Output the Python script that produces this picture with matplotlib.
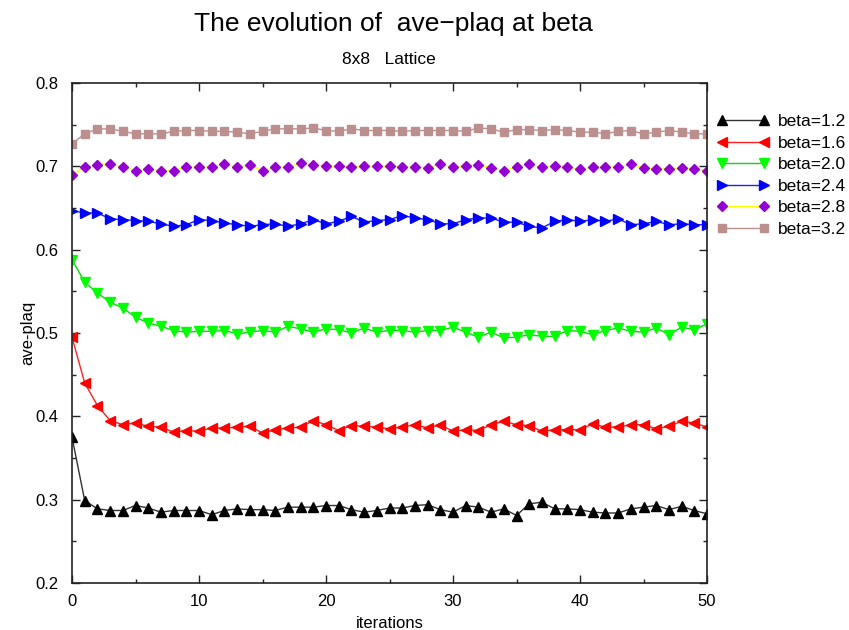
#!/usr/bin/env python3

import matplotlib
matplotlib.use("Agg")
import matplotlib.pyplot as plt
from matplotlib.ticker import MultipleLocator

iterations = list(range(51))

beta_1_2 = [0.375, 0.299, 0.289, 0.287, 0.287, 0.293, 0.290, 0.285, 0.287, 0.287,
            0.287, 0.282, 0.287, 0.289, 0.288, 0.288, 0.287, 0.291, 0.291, 0.291,
            0.293, 0.293, 0.288, 0.285, 0.287, 0.290, 0.290, 0.293, 0.294, 0.288,
            0.285, 0.293, 0.291, 0.285, 0.289, 0.281, 0.295, 0.297, 0.289, 0.289,
            0.288, 0.285, 0.284, 0.284, 0.289, 0.291, 0.293, 0.288, 0.292, 0.287,
            0.283]
beta_1_6 = [0.495, 0.440, 0.413, 0.395, 0.390, 0.392, 0.388, 0.387, 0.381, 0.383,
            0.382, 0.386, 0.386, 0.387, 0.388, 0.380, 0.384, 0.386, 0.387, 0.395,
            0.390, 0.383, 0.389, 0.388, 0.387, 0.385, 0.387, 0.390, 0.386, 0.390,
            0.382, 0.384, 0.383, 0.390, 0.394, 0.390, 0.389, 0.382, 0.384, 0.384,
            0.384, 0.391, 0.387, 0.387, 0.390, 0.390, 0.385, 0.388, 0.394, 0.392,
            0.387]
beta_2_0 = [0.588, 0.561, 0.548, 0.537, 0.530, 0.519, 0.512, 0.508, 0.503, 0.501,
            0.502, 0.502, 0.503, 0.499, 0.501, 0.503, 0.501, 0.508, 0.505, 0.501,
            0.505, 0.504, 0.500, 0.506, 0.501, 0.503, 0.503, 0.501, 0.503, 0.503,
            0.507, 0.501, 0.495, 0.501, 0.494, 0.495, 0.498, 0.496, 0.496, 0.503,
            0.502, 0.498, 0.503, 0.506, 0.502, 0.501, 0.506, 0.498, 0.507, 0.504,
            0.511]
beta_2_4 = [0.647, 0.644, 0.644, 0.637, 0.636, 0.635, 0.634, 0.631, 0.628, 0.630,
            0.636, 0.635, 0.632, 0.630, 0.628, 0.630, 0.631, 0.628, 0.631, 0.636,
            0.631, 0.634, 0.640, 0.633, 0.635, 0.636, 0.641, 0.638, 0.636, 0.631,
            0.631, 0.636, 0.638, 0.638, 0.633, 0.633, 0.628, 0.626, 0.634, 0.636,
            0.634, 0.636, 0.634, 0.637, 0.630, 0.631, 0.634, 0.630, 0.631, 0.630,
            0.630]
beta_2_8 = [0.690, 0.699, 0.702, 0.703, 0.699, 0.695, 0.697, 0.695, 0.695, 0.699,
            0.699, 0.699, 0.703, 0.699, 0.702, 0.694, 0.699, 0.699, 0.704, 0.702,
            0.700, 0.700, 0.699, 0.700, 0.700, 0.700, 0.699, 0.699, 0.698, 0.703,
            0.699, 0.700, 0.702, 0.698, 0.695, 0.699, 0.703, 0.699, 0.700, 0.699,
            0.697, 0.699, 0.699, 0.699, 0.703, 0.698, 0.697, 0.697, 0.698, 0.697,
            0.695]
beta_3_2 = [0.727, 0.739, 0.745, 0.745, 0.742, 0.739, 0.739, 0.739, 0.742, 0.743,
            0.743, 0.742, 0.742, 0.741, 0.739, 0.742, 0.745, 0.745, 0.745, 0.746,
            0.743, 0.742, 0.745, 0.743, 0.743, 0.743, 0.742, 0.743, 0.743, 0.743,
            0.743, 0.742, 0.746, 0.745, 0.741, 0.744, 0.744, 0.743, 0.744, 0.743,
            0.741, 0.741, 0.739, 0.742, 0.743, 0.739, 0.741, 0.743, 0.741, 0.739,
            0.739]

series = [
    ("beta=1.2", beta_1_2, "^", "black", "#333333"),
    ("beta=1.6", beta_1_6, "<", "#ff0000", "#ff2020"),
    ("beta=2.0", beta_2_0, "v", "#00ff00", "#00e000"),
    ("beta=2.4", beta_2_4, ">", "#0000ff", "#2020ff"),
    ("beta=2.8", beta_2_8, "D", "#9400d3", "#ffff00"),
    ("beta=3.2", beta_3_2, "s", "#bc8f8f", "#bc8f8f"),
]

plt.rcParams['font.family'] = ['Liberation Sans', 'DejaVu Sans']

fig = plt.figure(figsize=(8.49, 6.30), dpi=100)
ax = fig.add_axes([72 / 849, 1 - 583 / 630, (707 - 72) / 849, (583 - 83) / 630])

for label, values, marker, mcolor, lcolor in series:
    ms = 5.5 if marker == "D" else (6 if marker == "s" else 7.5)
    ax.plot(iterations, values, color=lcolor, lw=1.0, marker=marker,
            markersize=ms, markerfacecolor=mcolor, markeredgecolor=mcolor,
            label=label)

ax.set_xlim(0, 50)
ax.set_ylim(0.2, 0.8)
ax.xaxis.set_major_locator(MultipleLocator(10))
ax.xaxis.set_minor_locator(MultipleLocator(5))
ax.yaxis.set_major_locator(MultipleLocator(0.1))
ax.yaxis.set_minor_locator(MultipleLocator(0.05))
ax.tick_params(which='both', direction='in', top=True, right=True,
               labelsize=12, width=1.0, color='#222222')
ax.tick_params(which='major', length=6)
ax.tick_params(which='minor', length=3)
ax.tick_params(axis='x', pad=8)
ax.tick_params(axis='y', pad=10)
for s in ax.spines.values():
    s.set_linewidth(1.2)
    s.set_color('#222222')

ax.set_xlabel('iterations', fontsize=12, labelpad=5)
ax.set_ylabel('ave-plaq', fontsize=12, labelpad=0)

fig.text(0.463, 0.962, 'The evolution of  ave\u2212plaq at beta',
         ha='center', va='center', fontsize=19)
fig.text(0.458, 0.905, '8x8   Lattice', ha='center', va='center', fontsize=12.5)

fig.legend(loc='upper left', bbox_to_anchor=(710 / 849, 1 - 107 / 630),
           frameon=False, fontsize=12.5, numpoints=2, handlelength=3.0,
           handletextpad=0.5, labelspacing=0.37, borderaxespad=0)

fig.savefig('out.png', dpi=100)
